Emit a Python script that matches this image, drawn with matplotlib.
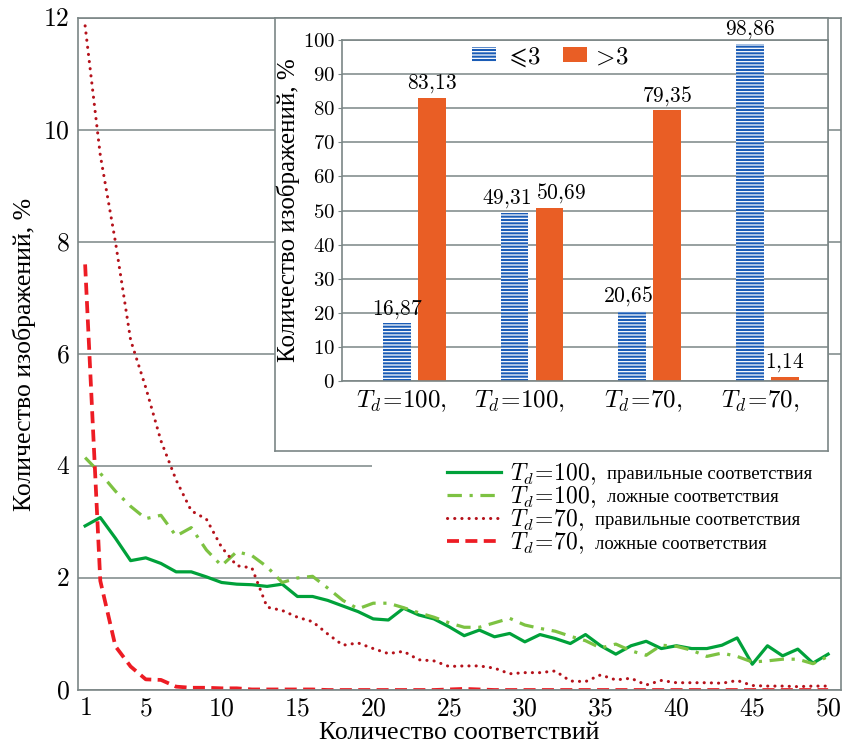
import matplotlib
matplotlib.use("Agg")
import matplotlib.pyplot as plt
from matplotlib.patches import Rectangle

plt.rcParams['font.family'] = ['Liberation Serif', 'DejaVu Serif']
plt.rcParams['mathtext.fontset'] = 'cm'
plt.rcParams['hatch.linewidth'] = 0.9

# main chart: share of images vs number of matches
n_matches = list(range(1, 51))
td100_true = [2.93, 3.08, 2.71, 2.31, 2.36, 2.26, 2.11, 2.11, 2.02, 1.92,
              1.89, 1.88, 1.85, 1.89, 1.67, 1.67, 1.60, 1.50, 1.40, 1.27,
              1.25, 1.46, 1.34, 1.27, 1.13, 0.97, 1.07, 0.95, 1.01, 0.86,
              0.99, 0.92, 0.83, 0.99, 0.79, 0.64, 0.79, 0.87, 0.74, 0.79,
              0.74, 0.74, 0.80, 0.93, 0.46, 0.79, 0.61, 0.73, 0.48, 0.64]
td100_false = [4.15, 3.87, 3.55, 3.28, 3.06, 3.12, 2.75, 2.90, 2.50, 2.22,
               2.47, 2.40, 2.20, 1.92, 2.00, 2.03, 1.82, 1.60, 1.45, 1.55,
               1.55, 1.47, 1.38, 1.30, 1.20, 1.12, 1.12, 1.20, 1.28, 1.16,
               1.10, 1.05, 0.96, 0.88, 0.75, 0.82, 0.70, 0.62, 0.80, 0.78,
               0.71, 0.60, 0.66, 0.60, 0.50, 0.52, 0.55, 0.55, 0.47, 0.60]
td70_true = [11.86, 9.55, 8.00, 6.25, 5.40, 4.45, 3.75, 3.20, 3.05, 2.55,
             2.22, 2.18, 1.48, 1.42, 1.30, 1.22, 1.00, 0.80, 0.84, 0.74,
             0.65, 0.69, 0.54, 0.52, 0.42, 0.43, 0.43, 0.39, 0.29, 0.31,
             0.31, 0.34, 0.16, 0.15, 0.27, 0.18, 0.21, 0.09, 0.17, 0.13,
             0.13, 0.13, 0.12, 0.17, 0.08, 0.07, 0.07, 0.06, 0.07, 0.07]
td70_false = [7.60, 1.95, 0.78, 0.42, 0.19, 0.18, 0.06, 0.04, 0.04, 0.03,
              0.03, 0.01, 0.01, 0.01, 0.01, 0.01, 0.0, 0.0, 0.0, 0.0,
              0.0, 0.0, 0.0, 0.0, 0.01, 0.02, 0.01, 0.0, 0.0, 0.0,
              0.0, 0.0, 0.0, 0.0, 0.0, 0.0, 0.0, 0.0, 0.0, 0.0,
              0.0, 0.0, 0.0, 0.0, 0.0, 0.0, 0.0, 0.0, 0.0, 0.0]
x_ticks = [1, 5, 10, 15, 20, 25, 30, 35, 40, 45, 50]
y_ticks = [0, 2, 4, 6, 8, 10, 12]

# inset: share of images with <=3 and >3 matches
groups = ['$T_d\\!=\\!100,$', '$T_d\\!=\\!100,$', '$T_d\\!=\\!70,$', '$T_d\\!=\\!70,$']
le3 = [16.87, 49.31, 20.65, 98.86]
gt3 = [83.13, 50.69, 79.35, 1.14]
inset_ticks = [0, 10, 20, 30, 40, 50, 60, 70, 80, 90, 100]

gray = '#7b8686'
blue = '#1a5cb6'
orange = '#e95e25'

fig = plt.figure(figsize=(8.42, 7.44), dpi=100)
ax = fig.add_axes([78/842, 54/744, 763/842, 672/744])

ax.plot(n_matches, td100_true, color='#00a13a', lw=2.3,
        label='$T_d\\!=\\!100,$')
ax.plot(n_matches, td100_false, color='#7dc242', lw=2.3,
        linestyle=(0, (4.5, 2.4, 1, 2.4)), label='$T_d\\!=\\!100,$')
ax.plot(n_matches, td70_true, color='#b5121b', lw=2.2,
        linestyle=(0, (0.05, 2.3)), dash_capstyle='round', label='$T_d\\!=\\!70,$')
ax.plot(n_matches, td70_false, color='#ed1c24', lw=2.7,
        linestyle=(0, (3.2, 1.7)), label='$T_d\\!=\\!70,$')

ax.set_xlim(0.53, 50.85)
ax.set_ylim(0, 12)
ax.set_xticks(x_ticks)
ax.set_xticklabels([f'${t}$' for t in x_ticks])
ax.set_yticks(y_ticks)
ax.set_yticklabels([f'${t}$' for t in y_ticks])
ax.tick_params(length=0, labelsize=18.5, pad=6)
ax.set_axisbelow(True)
ax.grid(axis='y', color=gray, lw=1.1)
for s in ax.spines.values():
    s.set_color(gray)
    s.set_linewidth(1.2)
ax.set_xlabel('Количество соответствий', fontsize=18.5, labelpad=1)
ax.set_ylabel('Количество изображений, %', fontsize=18.5, labelpad=5)

# white patch under the legend hides the gridline
ax.add_patch(Rectangle(((372 - 78) / 763, (690 - 568) / 672), 1, 110 / 672,
                       transform=ax.transAxes, facecolor='white',
                       edgecolor='none', zorder=1))

leg = ax.legend(loc='upper left', bbox_to_anchor=((447 - 78) / 763, (690 - 461) / 672),
                frameon=False, fontsize=17, handlelength=2.3, handletextpad=0.35,
                labelspacing=-0.1, borderpad=0, borderaxespad=0)
words = ['правильные соответствия', 'ложные соответствия',
         'правильные соответствия', 'ложные соответствия']
for txt, w in zip(leg.get_texts(), words):
    ax.annotate(w, xy=(1, 0.3), xycoords=txt, xytext=(8, 0),
                textcoords='offset points', fontsize=13.5, va='baseline',
                zorder=10)

# inset frame
box = fig.add_axes([275/842, 293/744, 553/842, 433/744])
box.set_xticks([])
box.set_yticks([])
box.set_facecolor('white')
for s in box.spines.values():
    s.set_color(gray)
    s.set_linewidth(1.2)

ins = fig.add_axes([342/842, 363/744, 486/842, 341/744])
pos = list(range(len(groups)))
b1 = ins.bar([p - 0.153 for p in pos], le3, width=0.235, color=blue,
             edgecolor='white', linewidth=0, hatch='-----', label='$\\leqslant\\!3$')
b2 = ins.bar([p + 0.143 for p in pos], gt3, width=0.235, color=orange,
             linewidth=0, label='$\\!>\\!3$')
# label shifts (points) keep the two middle labels apart
shift_le = [0, -6, -3, 0]
shift_gt = [0, 8, 0, 0]
for bars, vals, shifts in ((b1, le3, shift_le), (b2, gt3, shift_gt)):
    for r, v, dx in zip(bars, vals, shifts):
        ins.annotate(f'${v:.2f}$'.replace('.', '{,}'),
                     xy=(r.get_x() + r.get_width() / 2, v), xytext=(dx, 2),
                     textcoords='offset points', ha='center', va='bottom',
                     fontsize=15.5)
ins.set_xlim(-0.62, 3.51)
ins.set_ylim(0, 100)
ins.set_yticks(inset_ticks)
ins.set_yticklabels([f'${t}$' for t in inset_ticks])
ins.set_xticks([p + 0.27 for p in pos])
ins.set_xticklabels(groups, ha='right')
ins.tick_params(axis='x', length=0, labelsize=18, pad=5)
ins.tick_params(axis='y', length=3, color=gray, labelsize=15, pad=2)
ins.set_axisbelow(True)
ins.grid(axis='y', color=gray, lw=1.1)
for s in ins.spines.values():
    s.set_color(gray)
    s.set_linewidth(1.2)
ins.set_ylabel('Количество изображений, %', fontsize=18, labelpad=2)
ins.legend(loc='center', bbox_to_anchor=(0.43, 0.95), ncol=2, frameon=False,
           fontsize=18, handlelength=0.95, handleheight=0.55, handletextpad=0.35,
           columnspacing=0.9, borderpad=0)

fig.savefig('out.png', dpi=100)
